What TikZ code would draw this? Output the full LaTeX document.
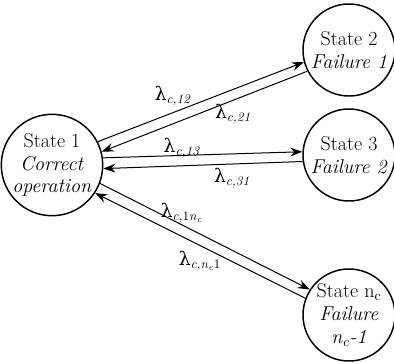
\documentclass[tikz,border=0pt]{standalone}
\usepackage{fontspec}
\newfontfamily\greekfont{DejaVu Serif}
\usetikzlibrary{arrows.meta}

\tikzset{
  state/.style={draw, circle, line width=1.1pt, minimum size=69pt, inner sep=0pt,
    align=center, font=\fontsize{15}{17}\selectfont},
  trans/.style={-{Stealth[length=9pt,width=6.5pt]}, line width=0.75pt},
  rate/.style={inner sep=0pt, font=\fontsize{14}{16}\selectfont}
}
% transition rate label
\newcommand{\rate}[1]{{\greekfont λ}\textsubscript{#1}}

\begin{document}
\begin{tikzpicture}[x=0.75pt,y=-0.75pt]
    \useasboundingbox (0,0) rectangle (394,362);
    % states
    \node[state, minimum size=70.5pt] (s1) at (52,165) {State 1\\\textit{Correct}\\\textit{operation}};
    \node[state] (s2) at (349,50) {State 2\\\textit{Failure 1}};
    \node[state] (s3) at (349,155) {State 3\\\textit{Failure 2}};
    \node[state] (sn) at (349,315) {State n\textsubscript{c}\\\textit{Failure}\\\textit{n\textsubscript{c}-1}};
    % transitions
    \draw[trans] (s1.27) -- (s2.195);
    \draw[trans] (s2.207) -- (s1.15);
    \draw[trans] (s1.8) -- (s3.176);
    \draw[trans] (s3.188) -- (s1.-4);
    \draw[trans] (s1.-21) -- (sn.147);
    \draw[trans] (sn.159) -- (s1.-33);
    % rates
    \node[rate] (r12) at (173,96) {\rate{\textit{c,12}}};
    \node[rate] (r21) at (233,114) {\rate{\textit{c,21}}};
    \node[rate] (r13) at (182,148) {\rate{\textit{c,13}}};
    \node[rate] (r31) at (232,178) {\rate{\textit{c,31}}};
    \node[rate] (r1n) at (182,213) {\rate{\textit{c,}1\textit{n}\textsubscript{\textit{c}}}};
    \node[rate] (rn1) at (200,261) {\rate{\textit{c,n}\textsubscript{\textit{c}}1}};
\end{tikzpicture}
\end{document}
